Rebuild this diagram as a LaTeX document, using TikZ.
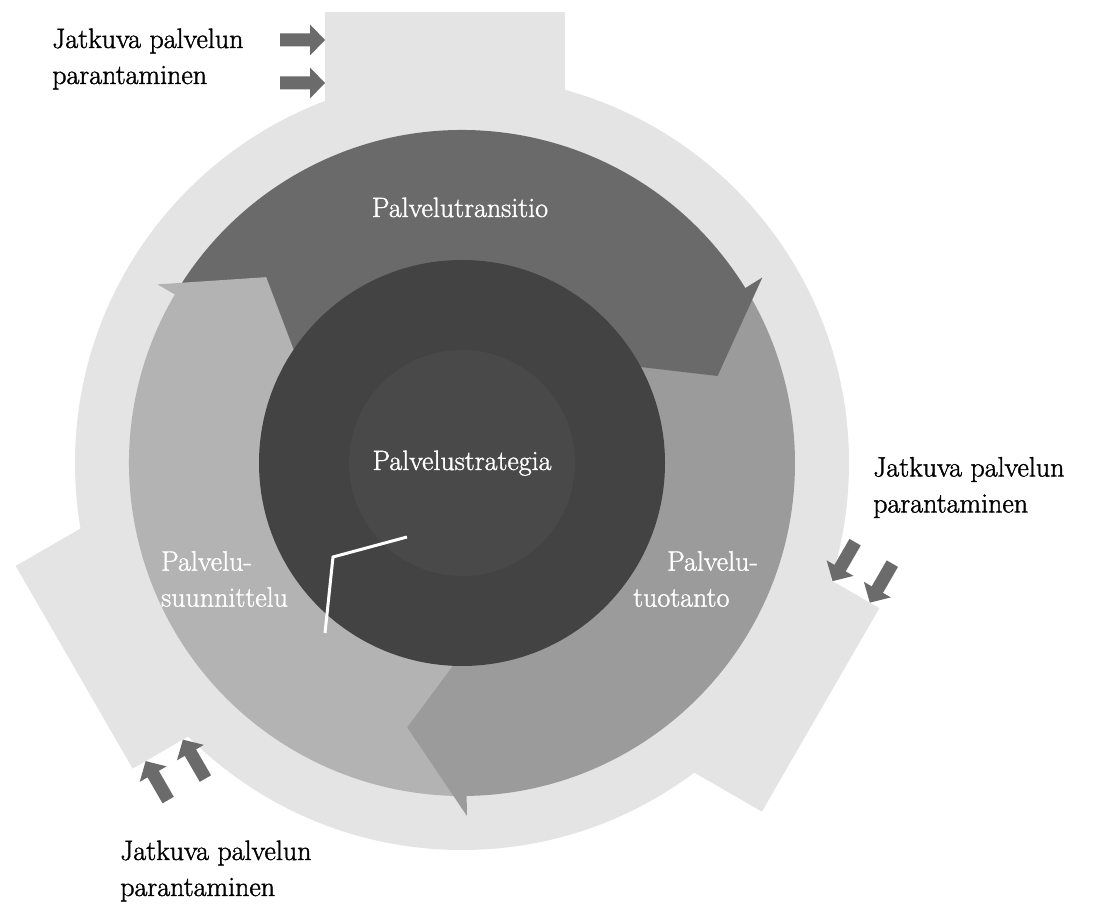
\documentclass[tikz,border=0pt]{standalone}
\usepackage{fontspec}
\newfontfamily\labelfont[FakeBold=1.4]{Latin Modern Roman}

\definecolor{ringlight}{HTML}{E4E4E4}
\definecolor{transgray}{HTML}{6A6A6A}
\definecolor{prodgray}{HTML}{9B9B9B}
\definecolor{plangray}{HTML}{B3B3B3}
\definecolor{coredark}{HTML}{434343}
\definecolor{coremid}{HTML}{494949}
\definecolor{tickgray}{HTML}{6B6B6B}

\begin{document}
\begin{tikzpicture}[x=1pt,y=1pt,
    lbl/.style={inner sep=0pt,align=left,font=\labelfont\fontsize{28}{36}\selectfont},
    inlbl/.style={lbl,text=white},
    outlbl/.style={lbl,text=black,anchor=west}]
  \useasboundingbox (0,0) rectangle (1095,903);
  \fill[white] (0,0) rectangle (1095,903);
  \begin{scope}[shift={(462,440)}]
    \fill[ringlight] (0,0) circle (387);
    \foreach \dir/\lo/\hi/\far in {90/-137/103/451, -30/-83/152/434, 210/-100/134/438} {
      \begin{scope}[rotate=\dir-90]
        \fill[ringlight] (\lo,300) rectangle (\hi,\far);
        \foreach \u in {380,423}
          \fill[tickgray] (\lo-45,\u-6.5) -- (\lo-15,\u-6.5) -- (\lo-15,\u-15.5)
            -- (\lo,\u) -- (\lo-15,\u+15.5) -- (\lo-15,\u+6.5) -- (\lo-45,\u+6.5) -- cycle;
      \end{scope}
    }
    \foreach \col/\from/\to in {transgray/31.7/149.6, prodgray/-89.2/31.7, plangray/149.6/270.8}
      \fill[\col] (\from:333) arc[start angle=\from, end angle=\to, radius=333]
        -- (\to:195) arc[start angle=\to, end angle=\from, radius=195] -- cycle;
    \foreach \col/\tip/\barb in {transgray/18.8/31.7, prodgray/258.3/270.8, plangray/136.5/149.6}
      \fill[\col] (\barb:353) -- (\tip:270) -- (\barb:187) -- (\barb+1.5:187)
        -- (\barb+1.5:332) -- (\barb:332) -- cycle;
    \fill[coredark] (0,0) circle (203);
    \fill[coremid] (0,0) circle (113);
    \draw[white, line width=3pt] (-55,-74) -- (-129,-94) -- (-137,-170);
  \end{scope}

  \node[inlbl, anchor=base] (transitio) at (460,686) {Palvelutransitio};
  \node[inlbl, anchor=base] (strategia) at (462,433) {Palvelustrategia};
  \node[inlbl, anchor=west] (suunnittelu) at (161,324) {Palvelu-\\suunnittelu};
  \node[inlbl, anchor=west] (tuotanto) at (633,324) {\hspace*{34pt}Palvelu-\\tuotanto};

  \node[outlbl] (csitop) at (52,844) {Jatkuva palvelun\\parantaminen};
  \node[outlbl] (csiright) at (873,415.5) {Jatkuva palvelun\\parantaminen};
  \node[outlbl] (csibottom) at (120,32) {Jatkuva palvelun\\parantaminen};
\end{tikzpicture}
\end{document}
